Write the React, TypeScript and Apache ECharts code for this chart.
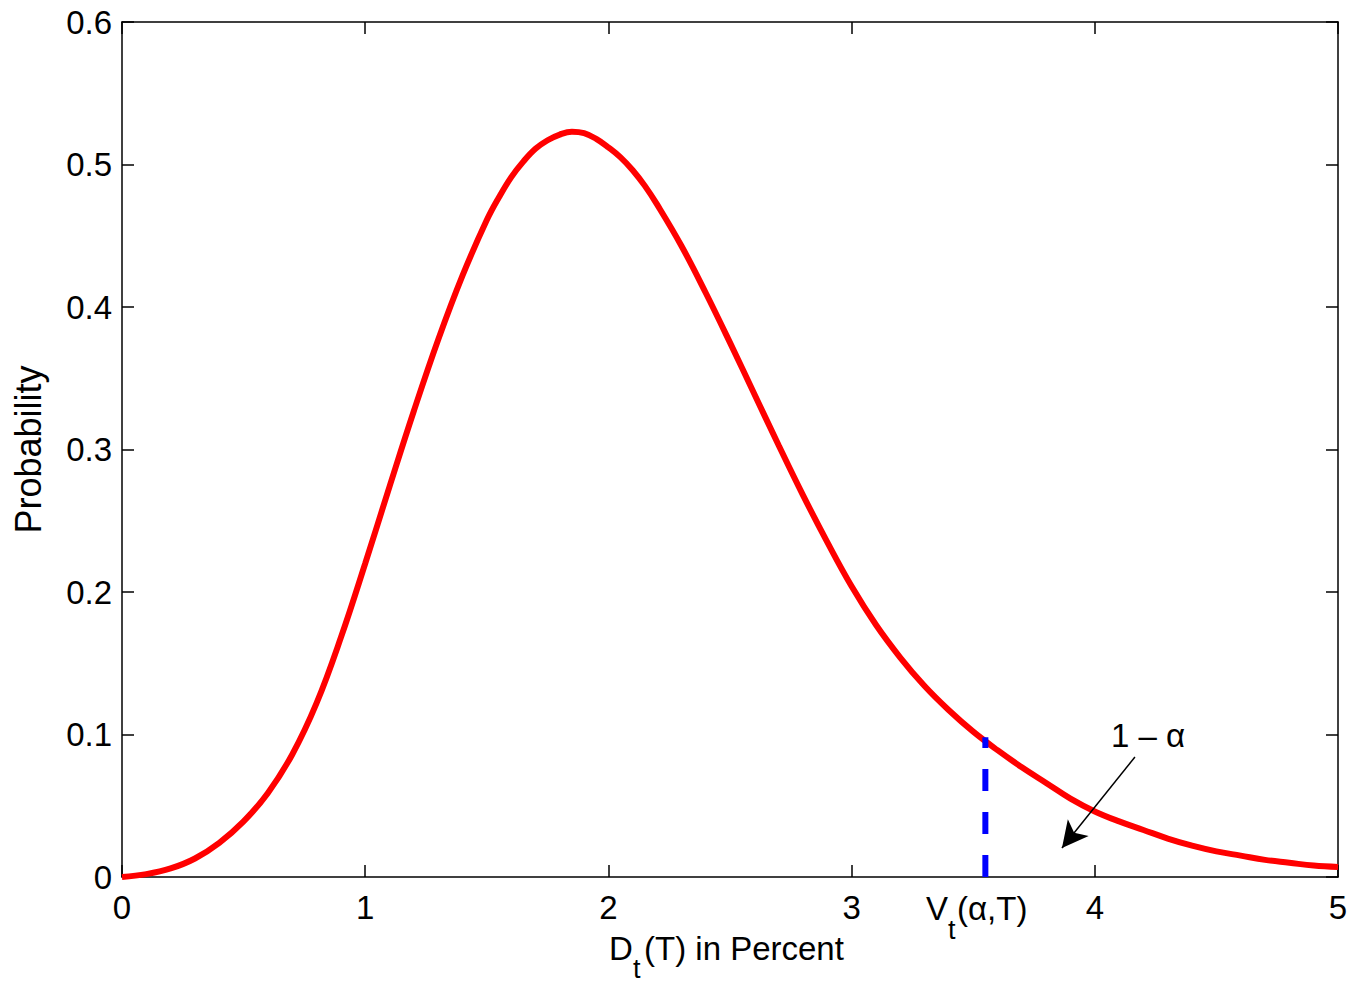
import React, { useEffect, useRef } from "react";
import * as echarts from "echarts";

const xValues = [
  0.0, 0.1, 0.2, 0.3, 0.4, 0.5, 0.6, 0.7, 0.8, 0.9,
  1.0, 1.1, 1.2, 1.3, 1.4, 1.5, 1.55, 1.6, 1.65, 1.7, 1.75, 1.8, 1.85, 1.9, 1.95,
  2.0, 2.05, 2.1, 2.15, 2.2, 2.3, 2.4, 2.5, 2.6, 2.7, 2.8, 2.9,
  3.0, 3.1, 3.2, 3.3, 3.4, 3.5, 3.6, 3.7, 3.8, 3.9,
  4.0, 4.1, 4.2, 4.3, 4.4, 4.5, 4.6, 4.7, 4.8, 4.9, 5.0,
];
const probValues = [
  0.000, 0.002, 0.006, 0.013, 0.024, 0.039, 0.059, 0.086, 0.122, 0.168,
  0.220, 0.274, 0.327, 0.377, 0.422, 0.461, 0.477, 0.491, 0.502, 0.511, 0.517, 0.521, 0.523, 0.522, 0.518,
  0.512, 0.505, 0.496, 0.485, 0.472, 0.443, 0.410, 0.375, 0.339, 0.303, 0.268, 0.235,
  0.204, 0.177, 0.154, 0.134, 0.117, 0.102, 0.089, 0.077, 0.066, 0.055,
  0.046, 0.039, 0.033, 0.027, 0.022, 0.018, 0.015, 0.012, 0.010, 0.008, 0.007,
];
const xTicks = [0, 1, 2, 3, 4, 5];
const yTicks = [0, 0.1, 0.2, 0.3, 0.4, 0.5, 0.6];

const varX = 3.55;
const varY = 0.098;
const arrowStart = [4.165, 0.0842];
const arrowEnd = [3.865, 0.0204];

const FONT = "'Liberation Sans', Arial, Helvetica, sans-serif";

export default function App() {
  const ref = useRef<HTMLDivElement>(null);

  useEffect(() => {
    if (!ref.current) return;
    const chart = echarts.init(ref.current, undefined, { renderer: "svg" });
    const axisCommon = {
      type: "value" as const,
      axisLine: { show: true, onZero: false, lineStyle: { color: "#000", width: 1.5 } },
      axisTick: { show: true, inside: true, length: 12, lineStyle: { color: "#000", width: 1.5 } },
      splitLine: { show: false },
    };
    const txt = (text: string, left: number, top: number, size: number) => ({
      type: "text",
      left,
      top,
      silent: true,
      style: { text, font: `${size}px ${FONT}`, fill: "#000" },
    });
    chart.setOption({
      animation: false,
      backgroundColor: "#fff",
      grid: {
        left: 122,
        right: 13,
        top: 22,
        bottom: 105,
        containLabel: false,
        outerBoundsMode: "none",
      },
      xAxis: [
        {
          ...axisCommon,
          min: xTicks[0],
          max: xTicks[xTicks.length - 1],
          interval: 1,
          position: "bottom",
          axisLabel: { fontSize: 33, color: "#000", fontFamily: FONT, margin: 14 },
        },
        {
          ...axisCommon,
          min: xTicks[0],
          max: xTicks[xTicks.length - 1],
          interval: 1,
          position: "top",
          axisLabel: { show: false },
        },
      ],
      yAxis: [
        {
          ...axisCommon,
          min: yTicks[0],
          max: yTicks[yTicks.length - 1],
          interval: 0.1,
          position: "left",
          name: "Probability",
          nameLocation: "middle",
          nameRotate: 90,
          nameGap: 76,
          nameTextStyle: { fontSize: 36, color: "#000", fontFamily: FONT },
          axisLabel: {
            fontSize: 33,
            color: "#000",
            fontFamily: FONT,
            margin: 10,
            formatter: (v: number) => (v === 0 ? "0" : v.toFixed(1)),
          },
        },
        {
          ...axisCommon,
          min: yTicks[0],
          max: yTicks[yTicks.length - 1],
          interval: 0.1,
          position: "right",
          axisLabel: { show: false },
        },
      ],
      series: [
        {
          type: "line",
          data: xValues.map((x, i) => [x, probValues[i]]),
          smooth: 0.4,
          showSymbol: false,
          lineStyle: { color: "#ff0000", width: 6 },
          z: 2,
          markLine: {
            silent: true,
            symbol: ["none", "arrow"],
            symbolSize: [20, 26],
            label: { show: false },
            lineStyle: { color: "#000", width: 1.5, type: "solid" },
            data: [[{ coord: arrowStart }, { coord: arrowEnd }]],
          },
        },
        {
          type: "line",
          data: [
            [varX, 0],
            [varX, varY],
          ],
          showSymbol: false,
          lineStyle: { color: "#0000ff", width: 6, type: [22, 21] },
          z: 3,
        },
      ],
      graphic: [
        txt("D", 609, 932, 33),
        txt("t", 633, 955, 27),
        txt("(T) in Percent", 644, 932, 33),
        txt("V", 926, 892, 33),
        txt("t", 948, 916, 27),
        txt("(α,T)", 957, 892, 33),
        txt("1 – α", 1111, 719, 33),
      ],
    });
    return () => chart.dispose();
  }, []);

  return (
    <div
      ref={ref}
      style={{ position: "fixed", left: 0, top: 0, width: 1351, height: 982, background: "#fff" }}
    />
  );
}
